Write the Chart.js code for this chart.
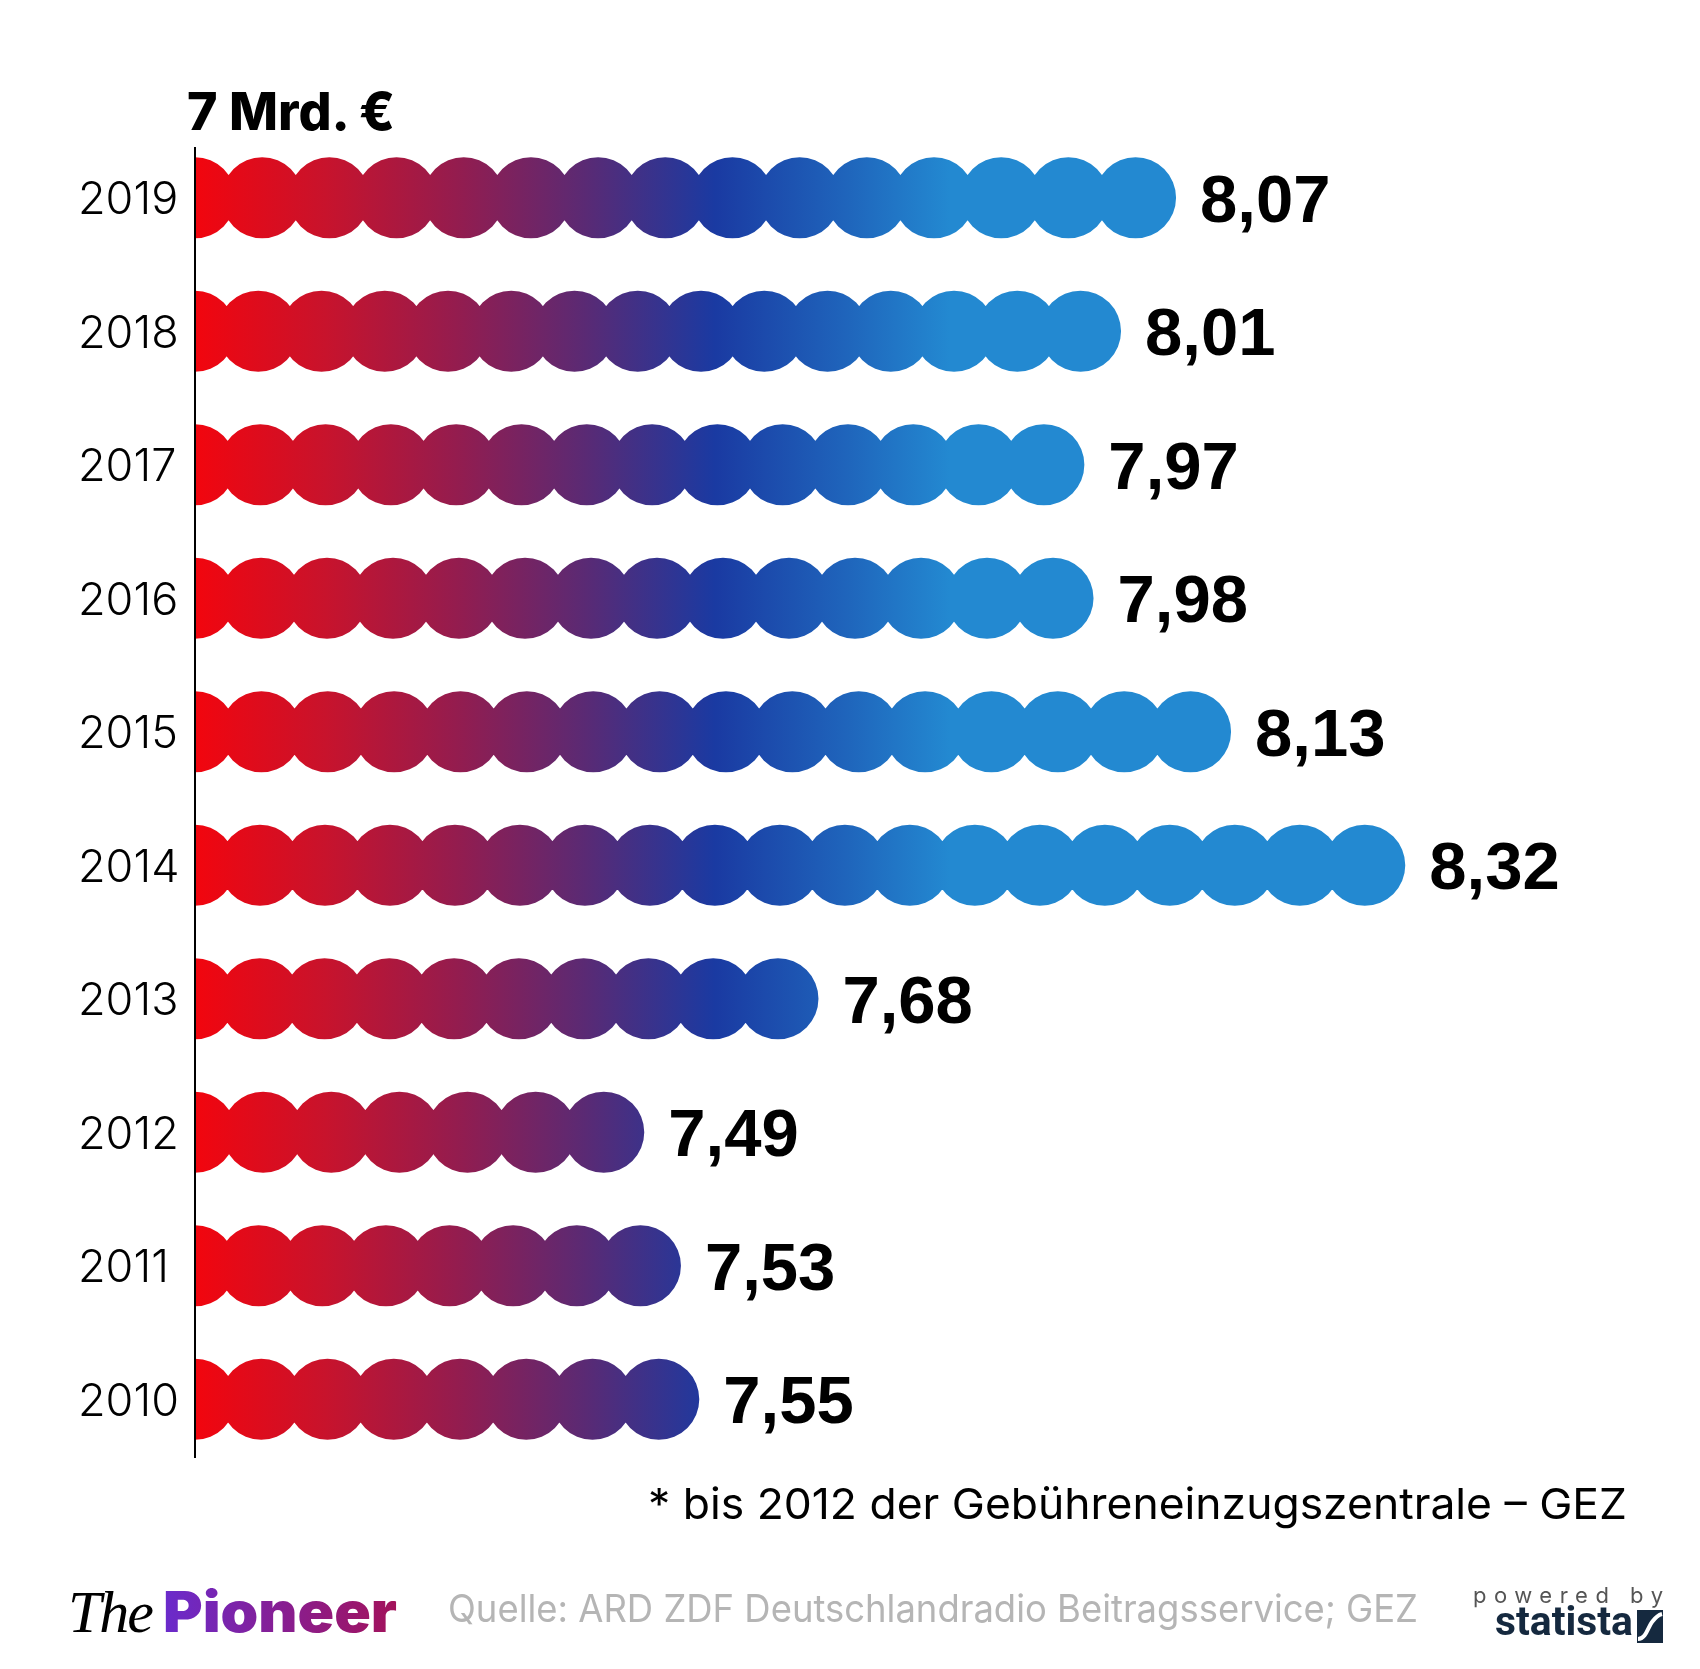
<!DOCTYPE html>
<html>
<head>
<meta charset="utf-8">
<script src="https://cdn.jsdelivr.net/npm/chart.js@4.4.1/dist/chart.umd.min.js"></script>
<style>
  html, body { margin: 0; padding: 0; background: #fff; }
  #wrap { position: relative; width: 1700px; height: 1669px; }
  #chartBox { position: absolute; left: 0; top: 0; width: 1700px; height: 1669px; }
  #overlay { position: absolute; left: 0; top: 0; }
</style>
</head>
<body>
<div id="wrap">
  <div id="chartBox"><canvas id="gezChart"></canvas></div>
  <svg id="overlay" width="1700" height="1669" xmlns="http://www.w3.org/2000/svg">
    <defs>
      <linearGradient id="pioneerGrad" x1="0" y1="0" x2="1" y2="0">
        <stop offset="0" stop-color="#6a2bcc"/>
        <stop offset="1" stop-color="#a3125a"/>
      </linearGradient>
    </defs>
    <text x="187" y="130" font-family="Inter, Lato, sans-serif" font-weight="800" font-size="52" fill="#000">7 Mrd. €</text>
    <text x="1627" y="1519" text-anchor="end" font-family="Inter, Lato, sans-serif" font-size="43" fill="#000" textLength="979" lengthAdjust="spacingAndGlyphs">* bis 2012 der Gebühreneinzugszentrale – GEZ</text>
    <text x="68" y="1632" font-family="Liberation Serif, serif" font-style="italic" font-size="60" fill="#000" letter-spacing="-2">The</text>
    <text x="163" y="1632" font-family="Inter, Lato, sans-serif" font-weight="900" font-size="56" fill="url(#pioneerGrad)" textLength="234" lengthAdjust="spacingAndGlyphs">Pioneer</text>
    <text x="448" y="1622" font-family="Inter, Lato, sans-serif" font-size="38" fill="#b5b5b5" textLength="970" lengthAdjust="spacingAndGlyphs">Quelle: ARD ZDF Deutschlandradio Beitragsservice; GEZ</text>
    <text x="1473" y="1603" font-family="Inter, Lato, sans-serif" font-size="22" fill="#555" textLength="190" lengthAdjust="spacing">powered by</text>
    <text x="1495" y="1635" font-family="Roboto, sans-serif" font-weight="700" font-size="40" fill="#15293f" textLength="138" lengthAdjust="spacingAndGlyphs">statista</text>
    <rect x="1637" y="1610" width="26" height="33" fill="#15293f"/>
    <path d="M1638 1639 C1646 1639 1648 1627 1652 1622 C1655 1618 1658 1615 1662 1614" stroke="#fff" stroke-width="4" fill="none"/>
  </svg>
</div>
<script>
// Rundfunkbeitrag-Erträge in Mrd. Euro
const years = ['2019', '2018', '2017', '2016', '2015', '2014', '2013', '2012', '2011', '2010'];
const revenue = [8.07, 8.01, 7.97, 7.98, 8.13, 8.32, 7.68, 7.49, 7.53, 7.55];

const axisMin = 7;
const axisMax = 8.6;
const dotGap = 63; // minimum px between dot centres

// colour runs red -> purple -> dark blue -> light blue along the value axis
const gradStops = [
    [0, '#f2050e'],
    [0.172, '#c8132c'],
    [0.344, '#951c4e'],
    [0.517, '#5a2a74'],
    [0.689, '#1a3aa2'],
    [0.861, '#1f64bb'],
    [1, '#2389d1']
];
const gradEnd = 7.823;

const dotsPlugin = {
    id: 'dots',
    afterDatasetsDraw(chart) {
        const ctx = chart.ctx;
        const xs = chart.scales.x;
        const area = chart.chartArea;
        const x0 = xs.getPixelForValue(axisMin);
        const grad = ctx.createLinearGradient(x0, 0, xs.getPixelForValue(gradEnd), 0);
        gradStops.forEach(s => grad.addColorStop(s[0], s[1]));

        const meta = chart.getDatasetMeta(0);
        ctx.save();
        ctx.beginPath();
        ctx.rect(x0, area.top, area.right - x0, area.bottom - area.top);
        ctx.clip();
        ctx.fillStyle = grad;
        meta.data.forEach(bar => {
            const r = bar.height / 2;
            const len = bar.x - r - x0;
            const gaps = Math.max(1, Math.floor(len / dotGap));
            const step = len / gaps;
            ctx.beginPath();
            for (let k = 0; k <= gaps; k++) {
                const cx = x0 + k * step;
                ctx.moveTo(cx + r, bar.y);
                ctx.arc(cx, bar.y, r, 0, Math.PI * 2);
            }
            ctx.fill();
        });
        ctx.restore();

        // value labels
        ctx.save();
        ctx.fillStyle = '#000';
        ctx.font = 'bold 67px "Liberation Sans", Arial, sans-serif';
        ctx.textAlign = 'left';
        ctx.textBaseline = 'alphabetic';
        meta.data.forEach((bar, i) => {
            const txt = revenue[i].toFixed(2).replace('.', ',');
            ctx.fillText(txt, bar.x + 24, bar.y + 24);
        });
        ctx.restore();

        // axis line
        ctx.save();
        ctx.strokeStyle = '#000';
        ctx.lineWidth = 2;
        ctx.beginPath();
        ctx.moveTo(x0, area.top + 16);
        ctx.lineTo(x0, area.bottom - 8);
        ctx.stroke();
        ctx.restore();
    }
};

const ctx = document.getElementById('gezChart').getContext('2d');
const gezChart = new Chart(ctx, {
    type: 'bar',
    data: {
        labels: years,
        datasets: [{
            data: revenue,
            base: axisMin,
            backgroundColor: 'rgba(0,0,0,0)',
            borderWidth: 0,
            barThickness: 81
        }]
    },
    options: {
        indexAxis: 'y',
        responsive: true,
        maintainAspectRatio: false,
        animation: false,
        layout: {
            padding: { left: 78, right: 38, top: 131, bottom: 203 }
        },
        plugins: {
            legend: { display: false },
            tooltip: { enabled: false }
        },
        scales: {
            x: {
                min: axisMin,
                max: axisMax,
                display: false
            },
            y: {
                grid: { display: false },
                border: { display: false },
                ticks: {
                    crossAlign: 'far',
                    color: '#000',
                    padding: 0,
                    labelOffset: 3,
                    font: { family: 'Inter, Lato, sans-serif', size: 45, weight: '300' }
                },
                afterFit(scale) {
                    scale.width = 117;
                }
            }
        }
    },
    plugins: [dotsPlugin]
});
</script>
</body>
</html>
